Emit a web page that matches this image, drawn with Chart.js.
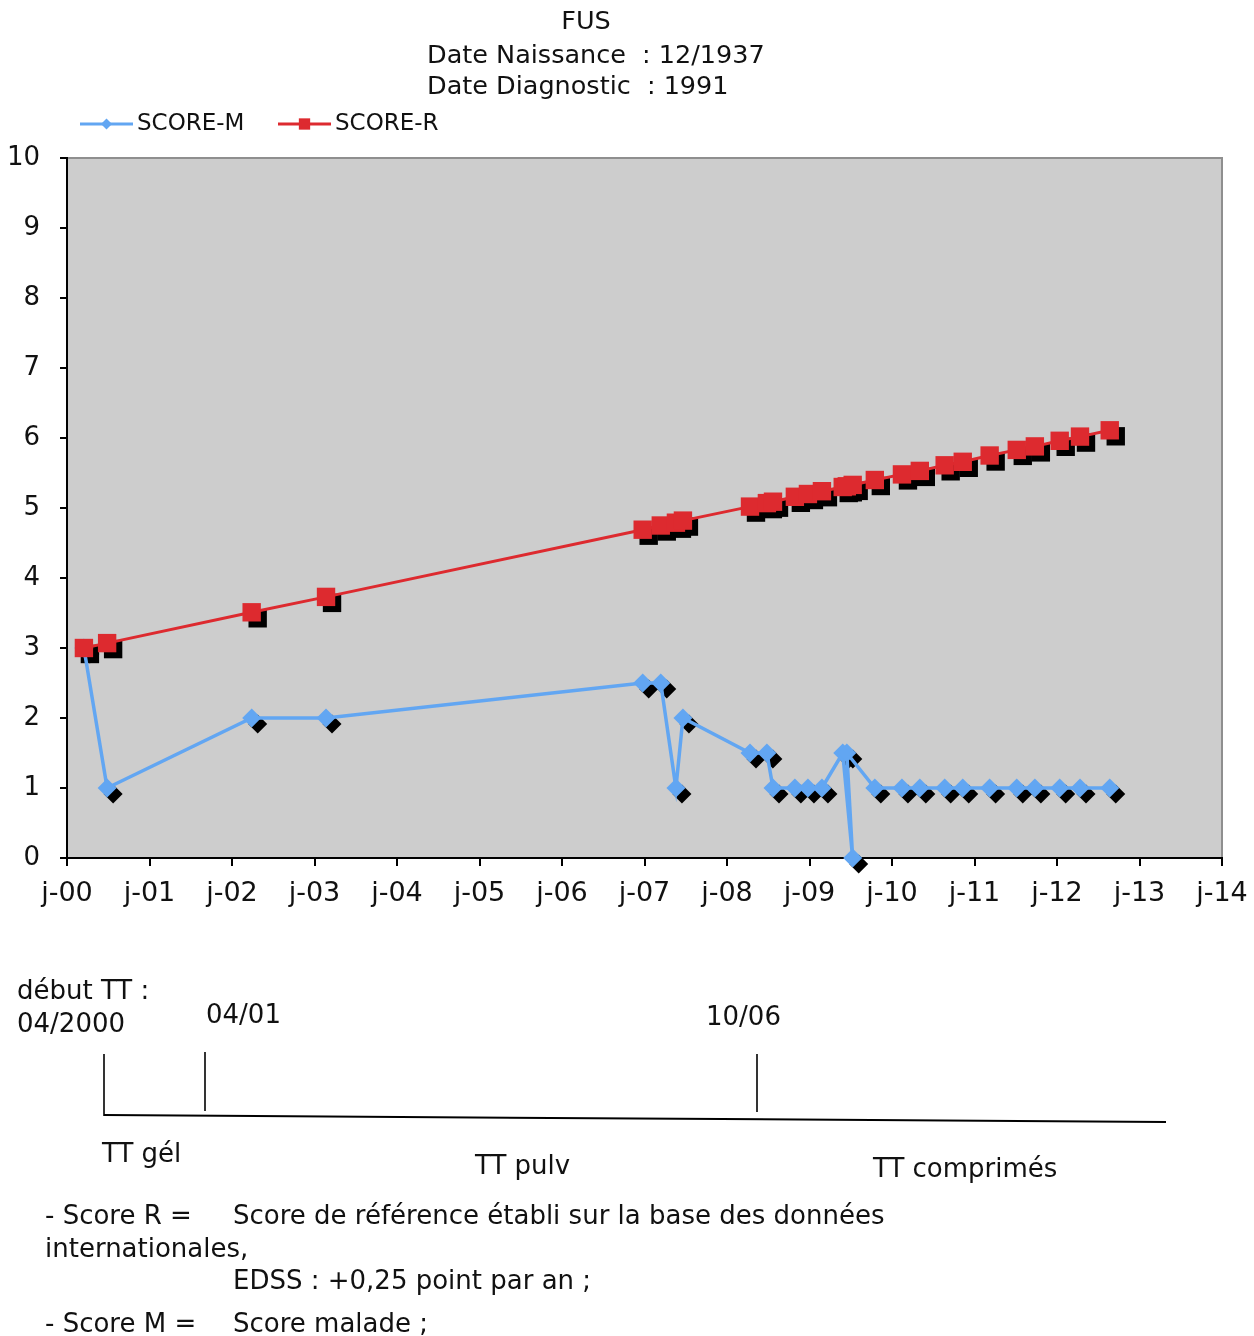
<!DOCTYPE html>
<html lang="fr">
<head>
<meta charset="utf-8">
<title>FUS – SCORE-M / SCORE-R</title>
<script src="https://cdn.jsdelivr.net/npm/chart.js@4.4.1/dist/chart.umd.min.js"></script>
<style>
  html, body { margin: 0; padding: 0; background: #fff; }
  #page { position: relative; width: 1254px; height: 1336px; overflow: hidden; }
  #chart { position: absolute; left: 0; top: 0; }
  #notes { position: absolute; left: 0; top: 0; pointer-events: none; }
  #notes text { font-family: "DejaVu Sans", sans-serif; font-size: 26px; fill: #111; }
</style>
</head>
<body>
<div id="page">
  <canvas id="chart" width="1254" height="940"></canvas>
  <svg id="notes" width="1254" height="1336" xmlns="http://www.w3.org/2000/svg">
    <!-- treatment timeline -->
    <g stroke="#000" fill="none">
      <line x1="104" y1="1054" x2="104" y2="1116" stroke-width="1.6"/>
      <line x1="205" y1="1052" x2="205" y2="1111" stroke-width="1.6"/>
      <line x1="757" y1="1054" x2="757" y2="1112" stroke-width="1.6"/>
      <line x1="104" y1="1115" x2="1166" y2="1122" stroke-width="2"/>
    </g>
    <text x="17" y="999">début TT :</text>
    <text x="17" y="1032">04/2000</text>
    <text x="206" y="1023">04/01</text>
    <text x="706" y="1025">10/06</text>
    <text x="102" y="1162">TT gél</text>
    <text x="475" y="1174">TT pulv</text>
    <text x="873" y="1177">TT comprimés</text>
    <!-- definitions of the two scores -->
    <text x="45" y="1224">- Score R =</text>
    <text x="233" y="1224">Score de référence établi  sur la base des données</text>
    <text x="45" y="1257">internationales,</text>
    <text x="233" y="1289">EDSS : +0,25 point par an ;</text>
    <text x="45" y="1332">- Score M =</text>
    <text x="233" y="1332">Score malade ;</text>
  </svg>
</div>
<script>
// Visit dates (YYYY-MM-DD) and the two scores recorded at each visit
const visitDates = [
  '2000-03-16', '2000-06-27', '2002-03-29', '2003-02-21',
  '2006-12-24', '2007-03-14', '2007-05-20', '2007-06-20',
  '2008-04-12', '2008-06-26', '2008-07-23', '2008-10-28',
  '2008-12-25', '2009-02-25', '2009-05-28', '2009-07-11',
  '2009-06-15', '2009-10-17', '2010-02-14', '2010-05-04',
  '2010-08-22', '2010-11-10', '2011-03-09', '2011-07-07',
  '2011-09-25', '2012-01-13', '2012-04-12', '2012-08-22'
];
const scoreM = [
  3, 1, 2, 2,
  2.5, 2.5, 1, 2,
  1.5, 1.5, 1, 1,
  1, 1, 1.5, 0,
  1.5, 1, 1, 1,
  1, 1, 1, 1,
  1, 1, 1, 1
];
const scoreR = [
  3.00, 3.07, 3.51, 3.73,
  4.69, 4.75, 4.79, 4.82,
  5.02, 5.07, 5.09, 5.16,
  5.20, 5.24, 5.30, 5.33,
  5.31, 5.40, 5.48, 5.53,
  5.61, 5.66, 5.75, 5.83,
  5.88, 5.96, 6.02, 6.11
];
const seriesNames = ['SCORE-M', 'SCORE-R'];
const yearTicks = ['j-00', 'j-01', 'j-02', 'j-03', 'j-04', 'j-05', 'j-06', 'j-07',
                   'j-08', 'j-09', 'j-10', 'j-11', 'j-12', 'j-13', 'j-14'];
const firstYear = 2000;
const titleLines = ['FUS', 'Date Naissance  : 12/1937', 'Date Diagnostic  : 1991'];

const FONT = '"DejaVu Sans", sans-serif';
const BLUE = '#62a6f2';
const RED = '#dd2a2f';
const SHADOW = { dx: 6, dy: 6 };

// fractional year from an ISO date
function toYear(s) {
  const [y, m, d] = s.split('-').map(Number);
  const start = Date.UTC(y, 0, 1), end = Date.UTC(y + 1, 0, 1);
  return y + (Date.UTC(y, m - 1, d) - start) / (end - start);
}
const pointsOf = values => visitDates.map((d, i) => ({ x: toYear(d), y: values[i] }));

function markerPath(ctx, style, x, y, r) {
  ctx.beginPath();
  if (style === 'rectRot') {
    ctx.moveTo(x - r, y); ctx.lineTo(x, y - r); ctx.lineTo(x + r, y); ctx.lineTo(x, y + r);
  } else {
    const h = r * Math.SQRT1_2;
    ctx.rect(x - h, y - h, 2 * h, 2 * h);
  }
  ctx.closePath();
}

// grey plot area with its frame
const plotFrame = {
  id: 'plotFrame',
  beforeDraw(chart) {
    const { ctx, chartArea: a } = chart;
    ctx.save();
    ctx.fillStyle = '#cdcdcd';
    ctx.fillRect(a.left, a.top, a.right - a.left, a.bottom - a.top);
    ctx.strokeStyle = '#8f8f8f';
    ctx.lineWidth = 2;
    ctx.beginPath();
    ctx.moveTo(a.left, a.top); ctx.lineTo(a.right, a.top); ctx.lineTo(a.right, a.bottom);
    ctx.stroke();
    ctx.restore();
  }
};

// dark drop shadow behind every marker
const markerShadow = {
  id: 'markerShadow',
  beforeDatasetsDraw(chart) {
    const ctx = chart.ctx;
    ctx.save();
    ctx.fillStyle = '#000';
    chart.getSortedVisibleDatasetMetas().forEach(meta => {
      const ds = chart.data.datasets[meta.index];
      meta.data.forEach(el => {
        markerPath(ctx, ds.pointStyle, el.x + SHADOW.dx, el.y + SHADOW.dy, ds.pointRadius);
        ctx.fill();
      });
    });
    ctx.restore();
  }
};

// title block and legend above the plot
const header = {
  id: 'header',
  afterDraw(chart) {
    const ctx = chart.ctx;
    ctx.save();
    ctx.fillStyle = '#111';
    ctx.textBaseline = 'middle';
    ctx.font = '25.5px ' + FONT;
    ctx.textAlign = 'center';
    ctx.fillText(titleLines[0], 586, 22);
    ctx.textAlign = 'left';
    ctx.fillText(titleLines[1], 427, 56);
    ctx.fillText(titleLines[2], 427, 87);

    const legendX = [80, 278];
    const ly = 124;
    ctx.font = '23px ' + FONT;
    chart.data.datasets.forEach((ds, i) => {
      const x0 = legendX[i];
      ctx.strokeStyle = ds.borderColor;
      ctx.lineWidth = 3;
      ctx.beginPath();
      ctx.moveTo(x0, ly); ctx.lineTo(x0 + 53, ly);
      ctx.stroke();
      ctx.fillStyle = ds.backgroundColor;
      markerPath(ctx, ds.pointStyle, x0 + 26.5, ly, ds.pointStyle === 'rectRot' ? 5.5 : 8);
      ctx.fill();
      ctx.fillStyle = '#111';
      ctx.fillText(ds.label, x0 + 57, ly);
    });
    ctx.restore();
  }
};

new Chart(document.getElementById('chart'), {
  type: 'line',
  data: {
    datasets: [
      {
        label: seriesNames[0],
        data: pointsOf(scoreM),
        borderColor: BLUE,
        backgroundColor: BLUE,
        borderWidth: 3.5,
        pointStyle: 'rectRot',
        pointRadius: 9.5,
        pointBorderWidth: 0,
        pointBackgroundColor: BLUE,
        tension: 0,
        clip: false,
        order: 1
      },
      {
        label: seriesNames[1],
        data: pointsOf(scoreR),
        borderColor: RED,
        backgroundColor: RED,
        borderWidth: 3,
        pointStyle: 'rect',
        pointRadius: 13,
        pointBorderWidth: 0,
        pointBackgroundColor: RED,
        tension: 0,
        clip: false,
        order: 0
      }
    ]
  },
  options: {
    responsive: false,
    animation: false,
    events: [],
    layout: { padding: { top: 158, right: 32, left: 0, bottom: 0 } },
    plugins: {
      legend: { display: false },
      title: { display: false },
      tooltip: { enabled: false }
    },
    scales: {
      x: {
        type: 'linear',
        min: firstYear,
        max: firstYear + yearTicks.length - 1,
        ticks: {
          stepSize: 1,
          autoSkip: false,
          maxRotation: 0,
          padding: 12,
          color: '#111',
          font: { family: FONT, size: 27 },
          callback: v => yearTicks[Math.round(v - firstYear)]
        },
        grid: { drawOnChartArea: false, drawTicks: true, tickLength: 8, color: '#000', lineWidth: 2 },
        border: { display: true, color: '#000', width: 2 },
        afterFit(scale) {
          scale.height = 940 - 858;
          scale.paddingLeft = 0;
          scale.paddingRight = 0;
        }
      },
      y: {
        min: 0,
        max: 10,
        ticks: {
          stepSize: 1,
          padding: 20,
          color: '#111',
          font: { family: FONT, size: 26 }
        },
        grid: { drawOnChartArea: false, drawTicks: true, tickLength: 7, color: '#000', lineWidth: 2 },
        border: { display: true, color: '#000', width: 2 },
        afterFit(scale) { scale.width = 67; }
      }
    }
  },
  plugins: [plotFrame, markerShadow, header]
});
</script>
</body>
</html>
